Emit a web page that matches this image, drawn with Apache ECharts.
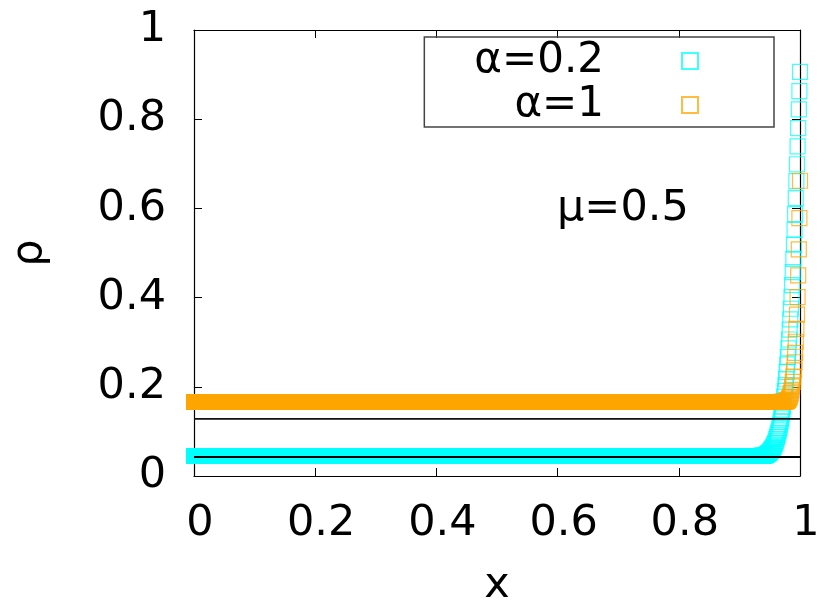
<!DOCTYPE html>
<html>
<head>
<meta charset="utf-8">
<script src="https://cdn.jsdelivr.net/npm/echarts@6/dist/echarts.min.js"></script>
<style>
html, body { margin: 0; padding: 0; background: #fff; }
#main { width: 830px; height: 613px; }
</style>
</head>
<body>
<div id="main"></div>
<script>
var seriesNames = ['α=0.2', 'α=1'];
var tailStep = 0.001;           // lattice spacing near x = 1
// ρ read off the rising tail, starting at x = 1 and stepping left by tailStep
var cyanTail = [
    0.906, 0.863, 0.822, 0.780, 0.739, 0.699, 0.661, 0.623, 0.587, 0.552,
    0.519, 0.487, 0.457, 0.428, 0.401, 0.375, 0.351, 0.328, 0.306, 0.286,
    0.267, 0.250, 0.233, 0.218, 0.204, 0.191, 0.178, 0.167, 0.156, 0.147,
    0.138, 0.129, 0.122, 0.115, 0.108, 0.102, 0.097, 0.092, 0.087, 0.083,
    0.078, 0.074, 0.071, 0.068, 0.065, 0.063, 0.061, 0.059, 0.057, 0.055,
    0.053, 0.052, 0.051, 0.050, 0.049, 0.048, 0.047, 0.047, 0.046, 0.046,
    0.045, 0.045, 0.045, 0.045, 0.045, 0.045
];
var orangeTail = [
    0.662, 0.578, 0.508, 0.450, 0.401, 0.362, 0.330, 0.301, 0.276, 0.255,
    0.237, 0.223, 0.211, 0.201, 0.193, 0.186, 0.181, 0.177, 0.174, 0.172,
    0.170, 0.169, 0.168, 0.167, 0.167, 0.167, 0.166, 0.166, 0.166, 0.166, 0.166
];
// flat bulk level of each profile (dense squares from x = 0 up to the tail)
var cyanPlateau = 0.0446;
var orangePlateau = 0.166;
// black reference levels
var refLines = [0.0426, 0.128];

var FONT = 'DejaVu Sans';
var cyan = '#00ffff';
var orange = '#ffa500';

function tailData(arr) {
    return arr.map(function (v, i) { return [1 - i * tailStep, v]; });
}
function plateauData(level, tail) {
    return [[0, level], [1 - (tail.length - 1) * tailStep, level]];
}

var myChart = echarts.init(document.getElementById('main'));

// mirror axes on top / right: ticks only
function mirrorAxis(pos) {
    return {
        type: 'value', position: pos, min: 0, max: 1, interval: 0.2,
        axisLine: { show: true, onZero: false, lineStyle: { color: '#000', width: 1.2 } },
        axisTick: { show: true, inside: true, length: 8, lineStyle: { color: '#000' } },
        axisLabel: { show: false },
        splitLine: { show: false }
    };
}

var option = {
    animation: false,
    backgroundColor: '#fff',
    grid: { left: 194, right: 30, top: 30, bottom: 137, containLabel: false, outerBoundsMode: 'none' },
    legend: {
        data: seriesNames,
        orient: 'vertical',
        align: 'right',
        right: 56,
        top: 37,
        padding: [2, 75, 0, 50],
        itemWidth: 16,
        itemHeight: 16,
        itemGap: 0,
        borderColor: '#444',
        borderWidth: 1.5,
        selectedMode: false,
        textStyle: { fontSize: 42, fontFamily: FONT, color: '#000', lineHeight: 44, padding: [0, 73, 0, 0] }
    },
    xAxis: [
        {
            type: 'value', min: 0, max: 1, interval: 0.2,
            name: 'x', nameLocation: 'middle', nameGap: 88,
            nameTextStyle: { fontSize: 43, fontFamily: FONT, color: '#000' },
            axisLine: { show: true, onZero: false, lineStyle: { color: '#000', width: 1.2 } },
            axisTick: { show: true, inside: true, length: 8, lineStyle: { color: '#000' } },
            axisLabel: { fontSize: 43, fontFamily: FONT, color: '#000', margin: 26, padding: [0, 0, 0, 12] },
            splitLine: { show: false }
        },
        mirrorAxis('top')
    ],
    yAxis: [
        {
            type: 'value', min: 0, max: 1, interval: 0.2,
            name: 'ρ', nameLocation: 'middle', nameGap: 143,
            nameTextStyle: { fontSize: 43, fontFamily: FONT, color: '#000' },
            axisLine: { show: true, onZero: false, lineStyle: { color: '#000', width: 1.2 } },
            axisTick: { show: true, inside: true, length: 8, lineStyle: { color: '#000' } },
            axisLabel: { fontSize: 43, fontFamily: FONT, color: '#000', margin: 28 },
            splitLine: { show: false }
        },
        mirrorAxis('right')
    ],
    graphic: [{
        type: 'text', left: 557, top: 187, z: 10,
        style: { text: 'μ=0.5', font: '43px "DejaVu Sans"', fill: '#000' }
    }],
    series: [
        {
            name: 'bulk α=0.2', type: 'line', data: plateauData(cyanPlateau, cyanTail),
            symbol: 'none', clip: false, silent: true,
            lineStyle: { color: cyan, width: 16, cap: 'square' }
        },
        {
            name: seriesNames[0], type: 'scatter', data: tailData(cyanTail),
            symbol: 'rect', symbolSize: 15, silent: true,
            itemStyle: { color: 'transparent', borderColor: cyan, borderWidth: 1.2, opacity: 0.75 }
        },
        {
            name: 'bulk α=1', type: 'line', data: plateauData(orangePlateau, orangeTail),
            symbol: 'none', clip: false, silent: true,
            lineStyle: { color: orange, width: 16, cap: 'square' }
        },
        {
            name: seriesNames[1], type: 'scatter', data: tailData(orangeTail),
            symbol: 'rect', symbolSize: 15, silent: true,
            itemStyle: { color: 'transparent', borderColor: orange, borderWidth: 1.2, opacity: 0.75 }
        },
        {
            name: 'ref1', type: 'line', data: [[0, refLines[0]], [1, refLines[0]]],
            symbol: 'none', silent: true, z: 5,
            lineStyle: { color: '#000', width: 2 }
        },
        {
            name: 'ref2', type: 'line', data: [[0, refLines[1]], [1, refLines[1]]],
            symbol: 'none', silent: true, z: 5,
            lineStyle: { color: '#111', width: 1.8 }
        }
    ]
};
myChart.setOption(option);
</script>
</body>
</html>
